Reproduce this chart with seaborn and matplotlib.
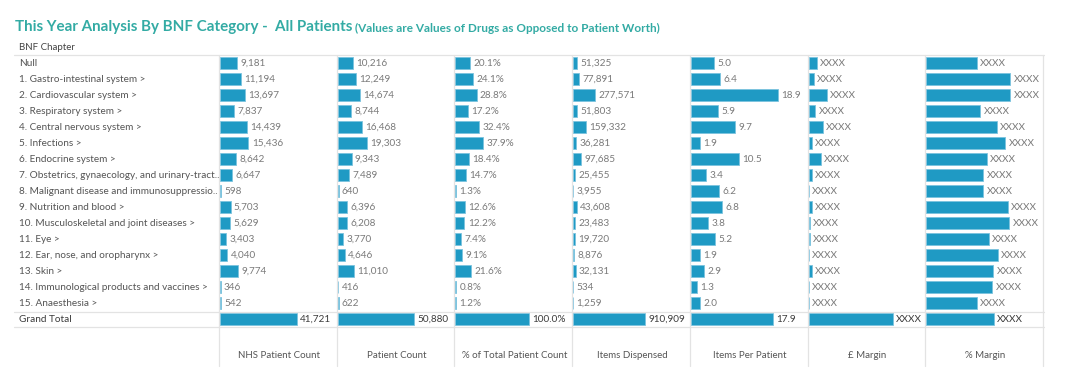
import matplotlib
matplotlib.use("Agg")
import matplotlib.pyplot as plt
import seaborn as sns
import pandas as pd
from matplotlib.lines import Line2D
from matplotlib.transforms import blended_transform_factory

# Data
chapters = ["Null", "1. Gastro-intestinal system >", "2. Cardiovascular system >",
            "3. Respiratory system >", "4. Central nervous system >", "5. Infections >",
            "6. Endocrine system >", "7. Obstetrics, gynaecology, and urinary-tract..",
            "8. Malignant disease and immunosuppressio..", "9. Nutrition and blood >",
            "10. Musculoskeletal and joint diseases >", "11. Eye >",
            "12. Ear, nose, and oropharynx >", "13. Skin >",
            "14. Immunological products and vaccines >", "15. Anaesthesia >", "Grand Total"]
nhs_patient_count = [9181, 11194, 13697, 7837, 14439, 15436, 8642, 6647, 598, 5703, 5629,
                     3403, 4040, 9774, 346, 542, 41721]
patient_count = [10216, 12249, 14674, 8744, 16468, 19303, 9343, 7489, 640, 6396, 6208,
                 3770, 4646, 11010, 416, 622, 50880]
pct_total_patients = [20.1, 24.1, 28.8, 17.2, 32.4, 37.9, 18.4, 14.7, 1.3, 12.6, 12.2,
                      7.4, 9.1, 21.6, 0.8, 1.2, 100.0]
items_dispensed = [51325, 77891, 277571, 51803, 159332, 36281, 97685, 25455, 3955, 43608,
                   23483, 19720, 8876, 32131, 534, 1259, 910909]
items_per_patient = [5.0, 6.4, 18.9, 5.9, 9.7, 1.9, 10.5, 3.4, 6.2, 6.8, 3.8, 5.2, 1.9,
                     2.9, 1.3, 2.0, 17.9]
# masked values (shown as XXXX)
gbp_margin = [9.9, 6.0, 22.0, 8.0, 17.0, 3.6, 14.3, 3.6, 0.6, 4.0, 1.2, 1.2, 0.4, 4.0,
              0.3, 0.4, 100.0]
pct_margin = [25.3, 42.0, 42.0, 27.0, 35.3, 39.5, 30.2, 28.5, 28.5, 40.7, 41.5, 31.2,
              35.8, 33.5, 33.0, 25.2, 33.8]

df = pd.DataFrame({
    "chapter": chapters,
    "NHS Patient Count": nhs_patient_count,
    "Patient Count": patient_count,
    "% of Total Patient Count": pct_total_patients,
    "Items Dispensed": items_dispensed,
    "Items Per Patient": items_per_patient,
    "£ Margin": gbp_margin,
    "% Margin": pct_margin,
})

columns = [
    ("NHS Patient Count", 63774, "{:,.0f}"),
    ("Patient Count", 78800, "{:,.0f}"),
    ("% of Total Patient Count", 159.7, "{:.1f}%"),
    ("Items Dispensed", 1495300, "{:,.0f}"),
    ("Items Per Patient", 25.57, "{:.1f}"),
    ("£ Margin", 140, "XXXX"),
    ("% Margin", 58.85, "XXXX"),
]

sns.set_theme(style="white")
plt.rcParams["font.family"] = ["Lato", "DejaVu Sans"]

W, H = 1074, 391
fig = plt.figure(figsize=(W / 100, H / 100), dpi=100)
fig.patch.set_facecolor("white")

BAR = "#1f9ac4"
GRID = "#e3e3e3"
TXT = "#7a7a7a"
TEAL = "#33aba4"
col_w = 117.7
x0 = 220.0
top, bottom = 55.0, 327.0
n = len(chapters)

def fx(x):
    return x / W

def fy(y):
    return 1 - y / H

axes = []
for i, (col, xmax, fmt) in enumerate(columns):
    left = x0 + i * col_w
    ax = fig.add_axes([fx(left), fy(bottom), fx(col_w), (bottom - top) / H])
    sns.barplot(data=df, x=col, y="chapter", orient="h", ax=ax, color=BAR,
                width=0.8, edgecolor="#7cc3de", linewidth=0.6, saturation=1)
    ax.set_xlim(0, xmax)
    ax.set_ylim(n - 0.5, -0.5)
    ax.axis("off")
    for j, v in enumerate(df[col]):
        label = fmt if fmt == "XXXX" else fmt.format(v)
        last = j == n - 1
        ax.annotate(label, (v, j), xytext=(2.4, 0), textcoords="offset points",
                    va="center", ha="left", fontsize=7.2,
                    color="#3c3c3c" if last else TXT)
    fig.text(fx(left + col_w / 2), fy(356), col, ha="center", va="center",
             fontsize=7, color="#555555")
    axes.append(ax)

# row labels
tr = blended_transform_factory(fig.transFigure, axes[0].transData)
for j, ch in enumerate(chapters):
    fig.text(fx(19), j, ch, transform=tr, ha="left", va="center", fontsize=7.2,
             color="#3a3a3a" if j == n - 1 else "#555555")

fig.text(fx(19), fy(47), "BNF Chapter", ha="left", va="center", fontsize=7,
         color="#444444")

# table lines
for y in (top, 311.7, bottom):
    fig.add_artist(Line2D([fx(14), fx(1044)], [fy(y), fy(y)], color=GRID, lw=0.9))
for i in range(len(columns) + 1):
    x = x0 - 1 + i * col_w
    fig.add_artist(Line2D([fx(x), fx(x)], [fy(top), fy(366)], color=GRID, lw=0.9))

# title
t = fig.text(fx(15), fy(27), "This Year Analysis By BNF Category -  All Patients",
             ha="left", va="center", fontsize=10.9, fontweight="bold", color=TEAL)
fig.canvas.draw()
bb = t.get_window_extent()
fig.text(bb.x1 / W + fx(3), fy(28), "(Values are Values of Drugs as Opposed to Patient Worth)",
         ha="left", va="center", fontsize=8.5, fontweight="bold", color=TEAL)

fig.savefig("out.png", dpi=100, facecolor="white")
